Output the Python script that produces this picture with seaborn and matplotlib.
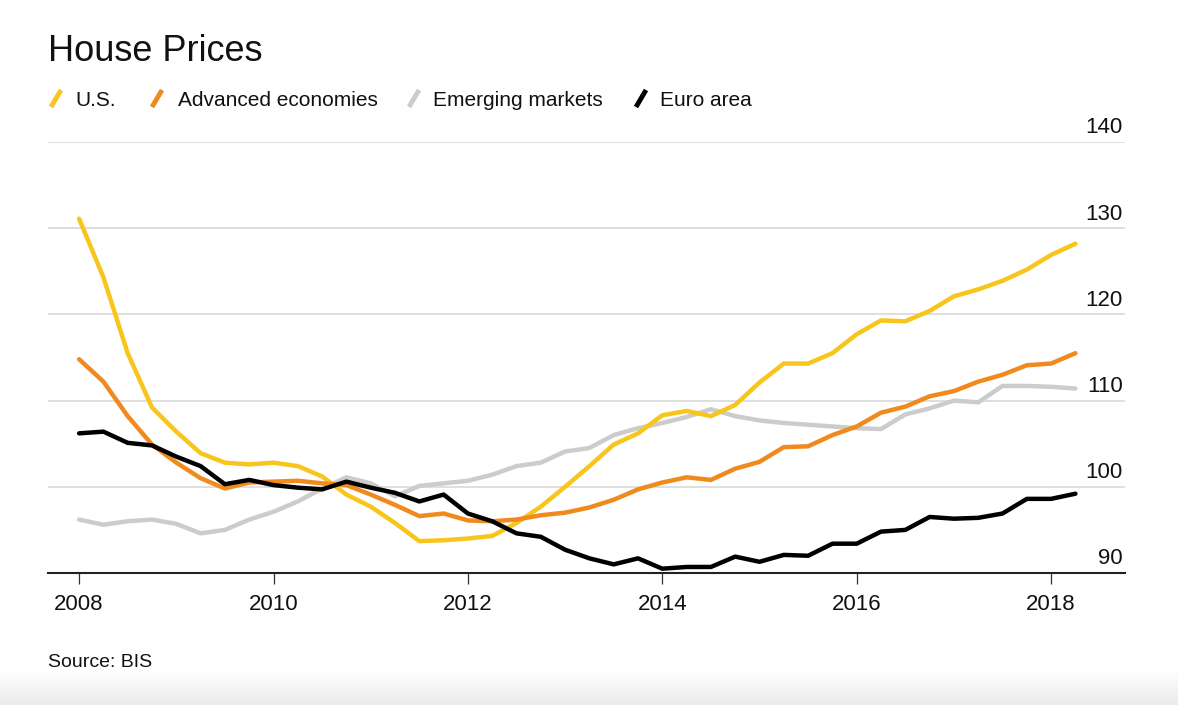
import numpy as np
import pandas as pd
import seaborn as sns
import matplotlib.pyplot as plt
import matplotlib.transforms as mtransforms
from matplotlib.lines import Line2D
from matplotlib.colors import LinearSegmentedColormap

# Dados trimestrais (2008 T1 a 2018 T2), índice de preços de imóveis
trimestres = pd.period_range('2008Q1', '2018Q2', freq='Q')

eua = [131.1, 124.3, 115.5, 109.2, 106.4, 103.9, 102.8, 102.6, 102.8, 102.4,
       101.2, 99.1, 97.7, 95.8, 93.7, 93.8, 94.0, 94.3, 95.8, 97.7,
       100.0, 102.4, 104.9, 106.2, 108.3, 108.8, 108.2, 109.5, 112.1, 114.3,
       114.3, 115.5, 117.7, 119.3, 119.2, 120.4, 122.1, 122.9, 123.9, 125.2,
       126.9, 128.2]

avancadas = [114.8, 112.2, 108.2, 104.9, 102.8, 101.0, 99.8, 100.5, 100.6, 100.7,
             100.4, 100.2, 99.1, 97.9, 96.6, 96.9, 96.1, 96.0, 96.2, 96.7,
             97.0, 97.6, 98.5, 99.7, 100.5, 101.1, 100.8, 102.1, 102.9, 104.6,
             104.7, 106.0, 107.0, 108.6, 109.3, 110.5, 111.1, 112.2, 113.0, 114.1,
             114.3, 115.5]

emergentes = [96.2, 95.6, 96.0, 96.2, 95.7, 94.6, 95.0, 96.2, 97.1, 98.3,
              99.8, 101.1, 100.4, 98.9, 100.1, 100.4, 100.7, 101.4, 102.4, 102.8,
              104.1, 104.5, 106.0, 106.8, 107.4, 108.1, 109.0, 108.2, 107.7, 107.4,
              107.2, 107.0, 106.8, 106.7, 108.4, 109.1, 110.0, 109.8, 111.7, 111.7,
              111.6, 111.4]

euro = [106.2, 106.4, 105.1, 104.8, 103.5, 102.4, 100.3, 100.8, 100.2, 99.9,
        99.7, 100.6, 99.9, 99.3, 98.3, 99.1, 96.9, 96.0, 94.6, 94.2,
        92.7, 91.7, 91.0, 91.7, 90.5, 90.7, 90.7, 91.9, 91.3, 92.1,
        92.0, 93.4, 93.4, 94.8, 95.0, 96.5, 96.3, 96.4, 96.9, 98.6,
        98.6, 99.2]

series = ['U.S.', 'Advanced economies', 'Emerging markets', 'Euro area']
cores = ['#F7C51B', '#F08A1F', '#CCCCCC', '#000000']
ordem_desenho = ['Emerging markets', 'U.S.', 'Advanced economies', 'Euro area']

yticks = [90, 100, 110, 120, 130, 140]
xticks = [2008, 2010, 2012, 2014, 2016, 2018]

# Tabela longa para o seaborn
anos = trimestres.year + (trimestres.quarter - 1) / 4
df = pd.concat([
    pd.DataFrame({'ano': anos, 'valor': v, 'serie': s})
    for s, v in zip(series, [eua, avancadas, emergentes, euro])
])

sns.set_style('white')
plt.rcParams['font.family'] = ['Liberation Sans', 'DejaVu Sans']

W, H = 1178, 705
fig = plt.figure(figsize=(W / 100, H / 100), dpi=100)

# Faixa cinza suave no rodapé (gradiente do branco ao cinza claro)
ax_fundo = fig.add_axes([0, 0, 1, 36 / H])
cmap_fundo = LinearSegmentedColormap.from_list('fundo', ['#FFFFFF', '#EBEBEB'])
ax_fundo.imshow(np.linspace(0, 1, 72).reshape(-1, 1), aspect='auto', cmap=cmap_fundo,
                extent=[0, 1, 0, 1], origin='upper', vmin=0, vmax=1)
ax_fundo.axis('off')

ax = fig.add_axes([48 / W, 1 - 573 / H, (1125 - 48) / W, (573 - 142) / H])
ax.patch.set_alpha(0)

# Linhas de grade
for y in yticks[1:]:
    ax.axhline(y, color='#D9D9D9', lw=1.2, zorder=0)

sns.lineplot(data=df, x='ano', y='valor', hue='serie', hue_order=ordem_desenho,
             palette=dict(zip(series, cores)), lw=3.2, legend=False, ax=ax)

ax.set_xlim(2007.68, 2018.76)
ax.set_ylim(90, 140)
ax.set_xlabel('')
ax.set_ylabel('')

for lado in ['top', 'right', 'left']:
    ax.spines[lado].set_visible(False)
ax.spines['bottom'].set_color('#222222')
ax.spines['bottom'].set_linewidth(1.5)

ax.set_xticks(xticks)
ax.set_xticklabels([str(t) for t in xticks], fontsize=16, color='#111111')
ax.tick_params(axis='x', which='both', bottom=True, direction='out', length=8,
               width=0.9, color='#333333', pad=7)
ax.set_yticks([])

# Rótulos do eixo y dentro do gráfico, à direita
trans = mtransforms.offset_copy(ax.get_yaxis_transform(), fig=fig, y=8.5, units='dots')
for y in yticks:
    ax.text(0.998, y, str(y), transform=trans, ha='right', va='baseline',
            fontsize=16, color='#111111')

# Título
fig.text(48 / W, 1 - 61 / H, 'House Prices', fontsize=26, va='baseline', color='#111111')

# Legenda manual com traços inclinados
leg_marca = [51, 152, 409, 636]
leg_texto = [75, 178, 433, 660]
for s, c, xm, xt in zip(series, cores, leg_marca, leg_texto):
    fig.add_artist(Line2D([xm / W, (xm + 10) / W], [1 - 107 / H, 1 - 90 / H],
                          color=c, lw=3.5, solid_capstyle='butt'))
    fig.text(xt / W, 1 - 106 / H, s, fontsize=15, va='baseline', color='#111111')

# Fonte
fig.text(48 / W, 1 - 667 / H, 'Source: BIS', fontsize=14, va='baseline', color='#111111')

fig.savefig('out.png', dpi=100)
